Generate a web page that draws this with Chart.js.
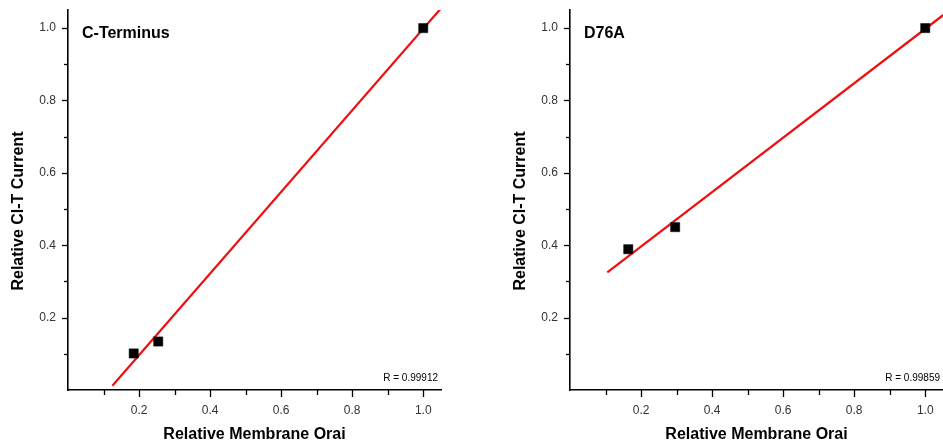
<!DOCTYPE html>
<html>
<head>
<meta charset="utf-8">
<script src="https://cdn.jsdelivr.net/npm/chart.js@4.4.1/dist/chart.umd.min.js"></script>
<style>
body { margin: 0; background: #fff; width: 943px; height: 447px; overflow: hidden; position: relative; }
.panel { position: absolute; top: 0; height: 447px; }
</style>
</head>
<body>
<div class="panel" style="left:0;width:470px"><canvas id="cTerm" width="470" height="447"></canvas></div>
<div class="panel" style="left:500px;width:443px"><canvas id="d76a" width="443" height="447"></canvas></div>
<script>
// Datos
var cTermX = [0.185, 0.254, 1.0];
var cTermY = [0.101, 0.134, 1.0];
var cTermFitX = [0.125, 1.06];
var cTermFitY = [0.012, 1.066];

var d76aX = [0.164, 0.296, 1.0];
var d76aY = [0.389, 0.450, 1.0];
var d76aFitX = [0.105, 1.06];
var d76aFitY = [0.325, 1.043];

var tickLabels = ['0.2', '0.4', '0.6', '0.8', '1.0'];
var titulos = ['C-Terminus', 'D76A'];
var valoresR = ['R = 0.99912', 'R = 0.99859'];
var tituloX = 'Relative Membrane Orai';
var tituloY = 'Relative Cl-T Current';

var fuente = '"Liberation Sans", Arial, sans-serif';

function puntos(xs, ys) {
    return xs.map(function(x, i) { return { x: x, y: ys[i] }; });
}

function etiqueta(value) {
    var s = Number(value).toFixed(1);
    return tickLabels.indexOf(s) >= 0 ? s : '';
}

// Plugin: marcas de los ejes (mayores y menores), título del eje Y y textos dentro del gráfico
var decoracion = {
    id: 'decoracion',
    afterDraw: function(chart, args, opts) {
        var ctx = chart.ctx, area = chart.chartArea;
        var sx = chart.scales.x, sy = chart.scales.y;
        ctx.save();
        ctx.strokeStyle = '#000';
        ctx.lineWidth = 1.3;
        sx.ticks.forEach(function(t) {
            if (t.value <= 0.001) return;
            var px = Math.round(sx.getPixelForValue(t.value)) + 0.5;
            var len = Math.round(t.value * 10) % 2 === 0 ? 7 : 5;
            ctx.beginPath();
            ctx.moveTo(px, area.bottom);
            ctx.lineTo(px, area.bottom + len);
            ctx.stroke();
        });
        sy.ticks.forEach(function(t) {
            if (t.value <= 0.001) return;
            var py = Math.round(sy.getPixelForValue(t.value)) + 0.5;
            var len = Math.round(t.value * 10) % 2 === 0 ? 6 : 4;
            ctx.beginPath();
            ctx.moveTo(area.left, py);
            ctx.lineTo(area.left - len, py);
            ctx.stroke();
        });
        ctx.fillStyle = '#000';
        ctx.textBaseline = 'middle';
        ctx.font = 'bold 16px ' + fuente;
        ctx.textAlign = 'left';
        ctx.fillText(opts.titulo, area.left + 14, area.top + 24);

        // título del eje Y, algo desplazado hacia abajo como en la figura
        ctx.save();
        ctx.translate(opts.tituloYx, (area.top + area.bottom) / 2 + 11);
        ctx.rotate(-Math.PI / 2);
        ctx.textAlign = 'center';
        ctx.fillText(tituloY, 0, 0);
        ctx.restore();

        ctx.font = '10px ' + fuente;
        ctx.textAlign = 'right';
        ctx.fillText(opts.r, area.right - 3, area.bottom - 12);
        ctx.restore();
    }
};

function crearGrafico(id, xs, ys, fitX, fitY, titulo, r, anchoEje, padDer, tituloYx) {
    var ctx = document.getElementById(id).getContext('2d');
    return new Chart(ctx, {
        type: 'scatter',
        data: {
            datasets: [{
                data: puntos(xs, ys),
                showLine: false,
                pointStyle: 'rect',
                pointRadius: 6.5,
                pointBackgroundColor: '#000',
                pointBorderColor: '#000',
                pointBorderWidth: 0.5
            }, {
                data: puntos(fitX, fitY),
                showLine: true,
                pointRadius: 0,
                borderColor: 'rgb(238, 16, 16)',
                borderWidth: 2.2
            }]
        },
        options: {
            responsive: false,
            animation: false,
            devicePixelRatio: 1,
            layout: { autoPadding: false, padding: { top: 10, right: padDer, left: 0, bottom: 0 } },
            plugins: {
                legend: { display: false },
                tooltip: { enabled: false },
                decoracion: { titulo: titulo, r: r, tituloYx: tituloYx }
            },
            scales: {
                x: {
                    type: 'linear',
                    min: 0,
                    max: 1.05,
                    afterFit: function(s) {
                        s.height = 57;
                        s.paddingLeft = 0;
                        s.paddingRight = 0;
                    },
                    grid: { display: false, drawTicks: false },
                    border: { display: true, color: '#000', width: 1.6 },
                    ticks: {
                        stepSize: 0.1,
                        includeBounds: false,
                        autoSkip: false,
                        maxRotation: 0,
                        padding: 13,
                        color: '#333',
                        font: { family: fuente, size: 12 },
                        callback: etiqueta
                    },
                    title: {
                        display: true,
                        text: tituloX,
                        color: '#000',
                        font: { family: fuente, size: 16, weight: 'bold' },
                        padding: { top: 0, bottom: 3 }
                    }
                },
                y: {
                    type: 'linear',
                    min: 0,
                    max: 1.05,
                    afterFit: function(s) {
                        s.width = anchoEje;
                        s.paddingTop = 0;
                        s.paddingBottom = 0;
                    },
                    grid: { display: false, drawTicks: false },
                    border: { display: true, color: '#000', width: 1.6 },
                    ticks: {
                        stepSize: 0.1,
                        includeBounds: false,
                        autoSkip: false,
                        padding: 12,
                        color: '#333',
                        font: { family: fuente, size: 12 },
                        callback: etiqueta
                    }
                }
            }
        },
        plugins: [decoracion]
    });
}

crearGrafico('cTerm', cTermX, cTermY, cTermFitX, cTermFitY, titulos[0], valoresR[0], 68, 29, 19);
crearGrafico('d76a', d76aX, d76aY, d76aFitX, d76aFitY, titulos[1], valoresR[1], 70, 0, 21);
</script>
</body>
</html>
